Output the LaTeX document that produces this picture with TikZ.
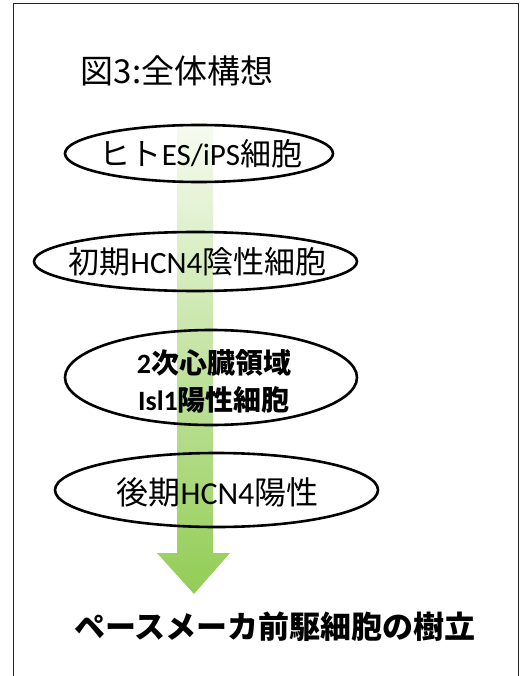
\documentclass[tikz,border=0pt]{standalone}
\usepackage{fontspec}
\setmainfont{Carlito}
\newfontfamily\jp{Noto Sans CJK JP}
\usetikzlibrary{shapes.geometric}
\definecolor{arrowgreen}{RGB}{146,205,85}
\definecolor{arrowpale}{RGB}{246,251,240}
\tikzset{
  cell/.style={draw=black, line width=2.6pt, ellipse, inner sep=0pt, outer sep=0pt},
  celltext/.style={inner sep=0pt, align=center, font=\fontsize{31}{34}\selectfont},
  frameline/.style={draw=black!85, line width=1.8pt},
}
\begin{document}
\begin{tikzpicture}[x=1pt,y=-1pt]
\useasboundingbox (0,0) rectangle (525,676);
% frame
\draw[frameline] (13.5,676) -- (13.5,3.5) -- (518.5,3.5) -- (518.5,676);
% title
\node (title) at (177,71) {\jp\fontsize{33}{36}\selectfont 図3:全体構想};
% big arrow
\shade[top color=arrowpale, bottom color=arrowgreen, middle color=arrowgreen!55!white]
  (177,125) -- (213,125) -- (213,553) -- (230,553) -- (194,594) -- (157,553) -- (177,553) -- cycle;
% cells
\node[cell, minimum width=268, minimum height=57] (c1) at (199,153.5) {};
\node[cell, minimum width=323, minimum height=59] (c2) at (195.5,261.5) {};
\node[cell, minimum width=292, minimum height=95] (c3) at (211,377.5) {};
\node[cell, minimum width=323, minimum height=74] (c4) at (216.5,490) {};
\node[celltext] (t1) at (201,154) {{\jp ヒト}ES/iPS{\jp 細胞}};
\node[celltext] (t2) at (197.5,262) {{\jp 初期}HCN4{\jp 陰性細胞}};
\node[celltext, font=\fontsize{28}{37}\selectfont\bfseries] (t3) at (214,381) {2{\jp\bfseries 次心臓領域}\\Isl1{\jp\bfseries 陽性細胞}};
\node[celltext, font=\fontsize{32}{34}\selectfont] (t4) at (217.5,492) {{\jp 後期}HCN4{\jp 陽性}};
% result
\node (res) at (275,627) {\jp\bfseries\fontsize{31}{34}\selectfont ペースメーカ前駆細胞の樹立};
\end{tikzpicture}
\end{document}
